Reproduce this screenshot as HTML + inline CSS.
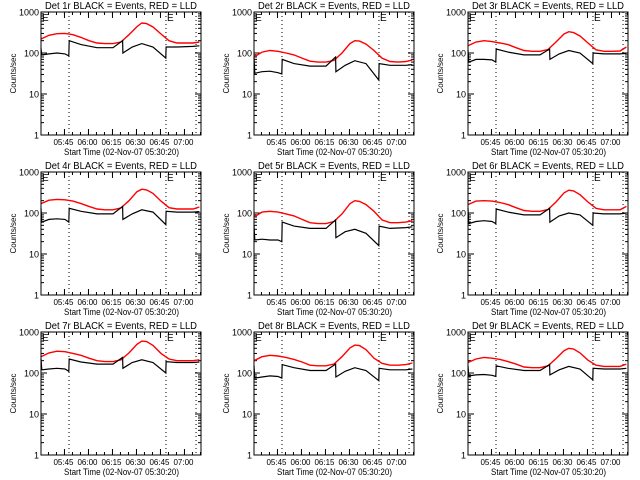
<!DOCTYPE html>
<html><head><meta charset="utf-8"><style>
html,body{margin:0;padding:0;background:#fff}
svg{display:block;font-family:"Liberation Sans",sans-serif}
</style></head><body>
<svg id="chart" width="640" height="480" viewBox="0 0 640 480" xmlns="http://www.w3.org/2000/svg"></svg>
<script>
// minutes since 05:30:20
const blackTimes = [0,0.5,5,10,15,17.4,17.6,25,35,45,51,51.2,57,63,70,78,78.2,85,95,99];
const redTimes = [0,5,10,15,20,25,30,35,40,45,50,55,60,63,66,70,75,80,85,90,95,99];
const detectorNames = ["Det 1r","Det 2r","Det 3r","Det 4r","Det 5r","Det 6r","Det 7r","Det 8r","Det 9r"];
const red1 = [220,270,295,300,280,240,200,175,170,170,185,280,440,540,520,430,290,200,175,175,175,185];
const black1 = [130,90,95,100,95,85,200,160,135,135,200,100,140,170,140,75,140,140,145,150];
const red2 = [80,105,115,110,100,90,75,63,60,60,66,100,170,200,195,165,115,75,62,60,62,68];
const black2 = [80,32,35,36,33,31,70,55,48,48,80,35,50,65,55,22,55,50,50,52];
const red3 = [150,185,200,190,175,160,135,115,110,110,122,185,290,330,315,260,175,120,110,110,112,140];
const black3 = [120,60,70,70,68,60,125,105,90,90,125,70,95,115,100,55,100,95,95,98];
const red4 = [170,205,215,210,195,170,145,125,120,120,133,200,330,380,365,300,195,135,125,125,125,140];
const black4 = [130,60,70,72,70,60,130,110,95,95,145,70,95,120,105,52,110,105,105,108];
const red5 = [80,105,110,105,95,85,70,58,55,55,62,95,170,200,192,160,110,68,58,58,60,65];
const black5 = [50,22,23,22,22,20,60,48,42,42,68,25,35,40,32,16,48,42,44,46];
const red6 = [160,195,200,195,180,160,135,115,110,110,122,185,310,360,345,280,185,130,120,120,120,145];
const black6 = [130,55,62,65,62,55,125,105,90,90,130,60,85,100,90,50,100,95,95,100];
const red7 = [250,310,340,330,300,270,230,200,190,190,210,310,500,600,585,470,300,220,200,200,200,210];
const black7 = [220,120,125,130,125,110,220,185,165,165,240,130,180,210,180,100,190,180,180,185];
const red8 = [200,250,270,260,240,215,185,155,150,150,166,250,410,480,465,370,230,172,155,155,160,175];
const black8 = [150,75,80,85,82,75,160,135,115,115,165,80,110,135,115,65,130,120,120,125];
const red9 = [180,220,240,230,215,190,165,140,135,135,150,225,350,400,385,310,205,155,145,145,145,165];
const black9 = [150,85,90,92,88,82,150,130,115,115,160,90,120,145,125,68,130,125,125,130];
const redSeries = [red1,red2,red3,red4,red5,red6,red7,red8,red9];
const blackSeries = [black1,black2,black3,black4,black5,black6,black7,black8,black9];
const xTickTimes = [14.67,29.67,44.67,59.67,74.67,89.67];
const xTickLabels = ["05:45","06:00","06:15","06:30","06:45","07:00"];
const yTickValues = [1,10,100,1000];
const yTickLabels = ["1","10","100","1000"];
const markerTimes = [17.5,78.1,96.9];

const NS="http://www.w3.org/2000/svg";
const svg=document.getElementById('chart');
function mk(tag,attrs,parent){const e=document.createElementNS(NS,tag);for(const k in attrs)e.setAttribute(k,attrs[k]);(parent||svg).appendChild(e);return e;}

const W=160,H=123,X0=41,Y0=12;
for(let p=0;p<9;p++){
  const col=p%3,row=Math.floor(p/3);
  const ox=X0+[0,213,427][col], oy=Y0+row*160;
  const xs=t=>ox+t/100*W;
  const ys=v=>oy+H-Math.log10(v)/3*H;
  const g=mk('g',{});
  
  
  const t=mk('text',{x:ox+W/2,y:oy-3,'text-anchor':'middle','font-size':10,textLength:152,lengthAdjust:'spacingAndGlyphs'},g);
  t.textContent=detectorNames[p]+" BLACK = Events, RED = LLD";
  
  
  const yl=mk('text',{x:0,y:0,'text-anchor':'middle','font-size':8,transform:`translate(${ox-25},${oy+H/2}) rotate(-90)`},g);
  yl.textContent="Counts/sec";
  
  
  for(let d=0;d<3;d++){for(let m=2;m<=9;m++){const y=ys(Math.pow(10,d)*m);
    mk('line',{x1:ox,x2:ox+3,y1:y,y2:y,stroke:'#000','stroke-width':1},g);
    mk('line',{x1:ox+W-3,x2:ox+W,y1:y,y2:y,stroke:'#000','stroke-width':1},g);}}
  yTickValues.forEach((v,i)=>{const y=ys(v);
    mk('line',{x1:ox,x2:ox+6,y1:y,y2:y,stroke:'#000'},g);
    mk('line',{x1:ox+W-6,x2:ox+W,y1:y,y2:y,stroke:'#000'},g);
    const tl=mk('text',{x:ox-2,y:y+3.5,'text-anchor':'end','font-size':9},g);
    tl.textContent=yTickLabels[i];
    
    });
  for(let m=-0.33;m<100;m+=5){if(m<0)continue;const x=xs(m);
    mk('line',{x1:x,x2:x,y1:oy+H,y2:oy+H-3,stroke:'#000'},g);
    mk('line',{x1:x,x2:x,y1:oy,y2:oy+3,stroke:'#000'},g);}
  xTickTimes.forEach((tt,i)=>{const x=xs(tt);
    mk('line',{x1:x,x2:x,y1:oy+H,y2:oy+H-6,stroke:'#000'},g);
    mk('line',{x1:x,x2:x,y1:oy,y2:oy+6,stroke:'#000'},g);
    const tl=mk('text',{x:x-1,y:oy+H+10,'text-anchor':'middle','font-size':8},g);
    tl.textContent=xTickLabels[i];
    
    });
  const xt=mk('text',{x:ox+W/2+0.5,y:oy+H+20,'text-anchor':'middle','font-size':9,textLength:115,lengthAdjust:'spacingAndGlyphs'},g);
  xt.textContent="Start Time (02-Nov-07 05:30:20)";
  
  
  markerTimes.forEach(mt=>{const x=xs(mt);
    const l=mk('line',{x1:x,x2:x,y1:oy,y2:oy+H,stroke:'#000','stroke-dasharray':'1,3'},g);
    
    });
  [0,78.1].forEach(mt=>{const e=mk('text',{x:xs(mt)+1,y:oy+9,'font-size':10},g);e.textContent="E";
    
    });
  const rp=redTimes.map((tt,i)=>xs(tt).toFixed(1)+','+ys(redSeries[p][i]).toFixed(1)).join(' ');
  const r=mk('polyline',{points:rp,fill:'none',stroke:'#ff0000','stroke-width':1.4},g);
  
  
  const bp=blackTimes.map((tt,i)=>xs(tt).toFixed(1)+','+ys(blackSeries[p][i]).toFixed(1)).join(' ');
  const b=mk('polyline',{points:bp,fill:'none',stroke:'#000','stroke-width':1.2},g);
  
  
  const box=mk('rect',{x:ox,y:oy,width:W,height:H,fill:'none',stroke:'#000','stroke-width':1},g);
  
  
}
</script>
</body></html>
